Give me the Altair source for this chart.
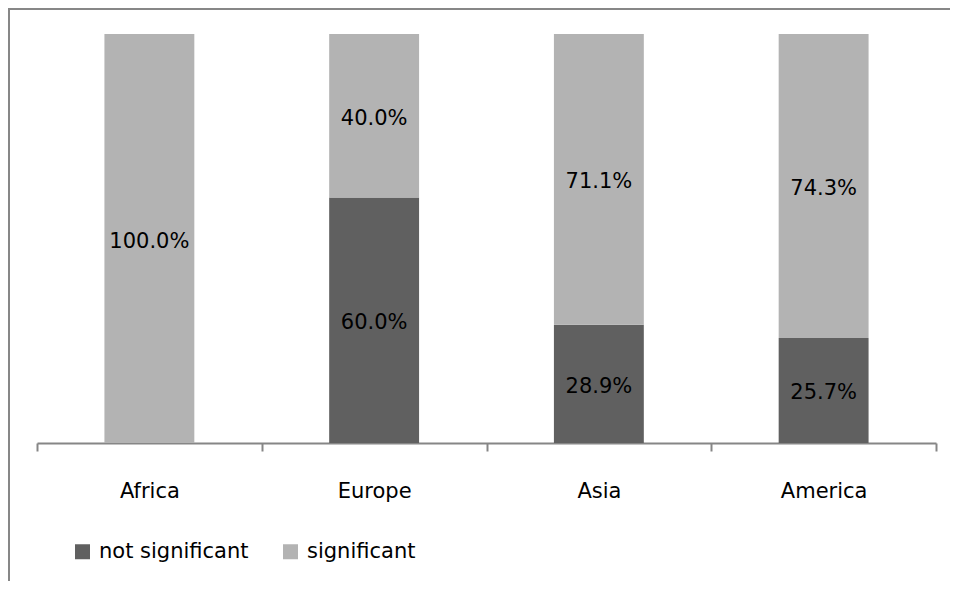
import altair as alt
import pandas as pd

regions = ["Africa", "Europe", "Asia", "America"]
not_significant = [0.0, 60.0, 28.9, 25.7]
significant = [100.0, 40.0, 71.1, 74.3]
groups = ["not significant", "significant"]
colors = ["#606060", "#b3b3b3"]

rows = []
for i, r in enumerate(regions):
    start = 0.0
    for k, (g, v) in enumerate(zip(groups, [not_significant[i], significant[i]])):
        rows.append({"region": r, "group": g, "value": v, "ord": k,
                     "mid": start + v / 2, "label": f"{v:.1f}%"})
        start += v
df = pd.DataFrame(rows)

FONT = "DejaVu Sans"
FS = 21

x_enc = alt.X("region:N", sort=regions, title=None,
              scale=alt.Scale(paddingInner=0, paddingOuter=0),
              axis=alt.Axis(labelAngle=0, labelFont=FONT, labelFontSize=FS,
                            labelColor="#000000", labelPadding=29,
                            domainColor="#868686", domainWidth=2,
                            tickColor="#868686", tickWidth=2, tickSize=8,
                            tickBand="extent", grid=False))

bars = alt.Chart(df).mark_bar(width=alt.RelativeBandSize(0.4)).encode(
    x=x_enc,
    y=alt.Y("value:Q", stack="zero", scale=alt.Scale(domain=[0, 100]), axis=None),
    color=alt.Color("group:N", sort=groups,
                    scale=alt.Scale(domain=groups, range=colors),
                    legend=alt.Legend(title=None, orient="none", legendX=35, legendY=507,
                                      direction="horizontal", symbolType="square",
                                      symbolSize=225, symbolStrokeWidth=0,
                                      labelFont=FONT, labelFontSize=FS,
                                      labelColor="#000000", labelOffset=6,
                                      columnPadding=31)),
    order=alt.Order("ord:Q"),
)

labels = alt.Chart(df).transform_filter("datum.value > 0").mark_text(
    font=FONT, fontSize=FS, color="#000000", baseline="middle", dy=3
).encode(
    x=alt.X("region:N", sort=regions),
    y=alt.Y("mid:Q"),
    text="label:N",
)

frame_df = pd.DataFrame({"a": [0]})
top_line = alt.Chart(frame_df).mark_rule(color="#878787", strokeWidth=2).encode(
    x=alt.value(-29), x2=alt.value(913), y=alt.value(-25))
left_line = alt.Chart(frame_df).mark_rule(color="#878787", strokeWidth=2).encode(
    x=alt.value(-28), y=alt.value(-26), y2=alt.value(560))

chart = alt.layer(bars, labels, top_line, left_line).properties(
    width=899, height=409,
    autosize=alt.AutoSizeParams(type="none"),
    padding={"left": 29, "top": 26, "right": 14, "bottom": 138},
).configure_view(stroke=None)

chart.save("out.html", embed_options={"renderer": "svg", "actions": False})
